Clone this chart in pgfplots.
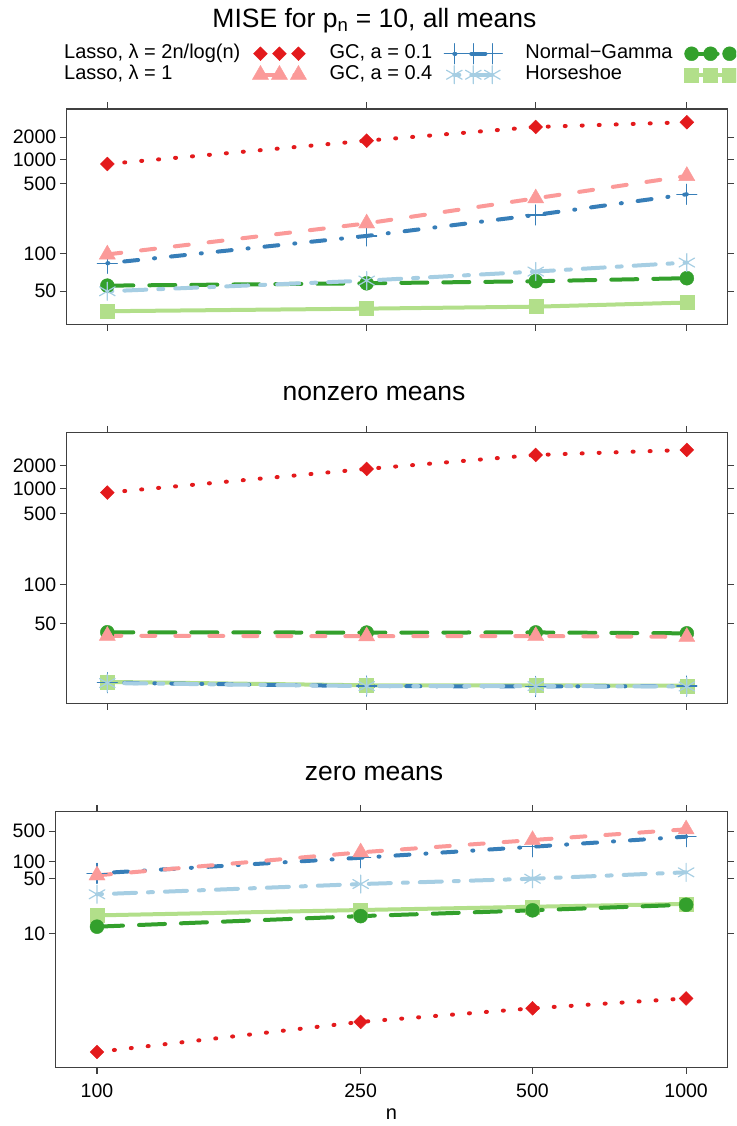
\documentclass[border=0pt]{standalone}
\usepackage{fontspec}
\setmainfont{Liberation Sans}
\usepackage{pgfplots}
\pgfplotsset{compat=1.18}

\definecolor{cred}{HTML}{E31A1C}
\definecolor{cpink}{HTML}{FB9A99}
\definecolor{cblue}{HTML}{377EB8}
\definecolor{clblue}{HTML}{A6CEE3}
\definecolor{cgreen}{HTML}{33A02C}
\definecolor{clgreen}{HTML}{B2DF8A}

\pgfplotsset{
  sred/.style={color=cred, line width=4pt, line cap=round, dash pattern=on 1pt off 16pt,
    mark=square*, mark size=4.9pt, mark options={solid, rotate=45, line width=0.4pt}},
  spink/.style={color=cpink, line width=4pt, line cap=round, dash pattern=on 14pt off 20pt,
    mark=triangle*, mark size=9.3pt, mark options={solid, line width=0.4pt}},
  sblue/.style={color=cblue, line width=4pt, line cap=round, dash pattern=on 1pt off 16pt on 14pt off 16pt,
    mark=+, mark size=10pt, mark options={solid, line width=1.2pt}},
  slblue/.style={color=clblue, line width=4pt, line cap=round, dash pattern=on 5pt off 12pt on 22pt off 12pt,
    mark=asterisk, mark size=9pt, mark options={solid, line width=1.2pt}},
  sgreen/.style={color=cgreen, line width=4pt, line cap=round, dash pattern=on 26pt off 16pt,
    mark=*, mark size=7pt, mark options={solid, line width=0.4pt}},
  slgreen/.style={color=clgreen, line width=4pt, line cap=round, solid,
    mark=square*, mark size=7pt, mark options={solid, line width=0.4pt}},
  panel/.style={
    scale only axis,
    anchor=south west,
    x coord trafo/.code={\pgfmathparse{ln(ln(##1))}},
    y coord trafo/.code={\pgfmathparse{ln(ln(##1))}},
    xmin=87.8, xmax=1222,
    xtick={100,250,500,1000},
    xtick pos=both, ytick pos=both,
    xticklabel pos=bottom, yticklabel pos=left,
    tick align=outside,
    major tick length=6.5pt,
    axis line style={black!75, line width=1.1pt},
    tick style={black!75, line width=1.1pt},
    tick label style={font=\fontsize{19.5}{23}\selectfont},
    xticklabel style={yshift=-7pt},
    label style={font=\fontsize{20}{24}\selectfont},
    xlabel style={yshift=-4pt},
  },
}

\begin{document}
\begin{tikzpicture}[x=1pt,y=1pt]
\useasboundingbox (0,0) rectangle (736,1126);
\clip (0,0) rectangle (736,1126);

% all means
\begin{axis}[panel, at={(66.3pt,801.7pt)}, width=661.4pt, height=215.3pt,
  ymin=29.74, ymax=5354,
  ytick={50,100,500,1000,2000}, yticklabels={50,100,500,1000,2000},
  xticklabels={},
  legend columns=3, legend plot pos=right, legend cell align=left,
  legend image code/.code={\draw[mark repeat=1,#1] plot coordinates {(0pt,0pt) (19pt,0pt) (38pt,0pt)};},
  legend style={at={(-0.005,1.304)}, anchor=north west, draw=none, fill=none, inner sep=0pt,
    font=\fontsize{20}{24}\selectfont,
    nodes={inner sep=1pt, text height=14pt, text depth=4pt}, row sep=1pt,
    /tikz/every odd column/.append style={column sep=11pt},
    /tikz/every even column/.append style={column sep=22pt}},
  ]
\addplot[slgreen, forget plot] coordinates {(100,36.2) (250,37.7) (500,38.9) (1000,41.5)};
\addplot[sgreen, forget plot] coordinates {(100,55.0) (250,57.3) (500,59.4) (1000,62.7)};
\addplot[sblue, forget plot] coordinates {(100,82.6) (250,143.5) (500,229.7) (1000,381)};
\addplot[slblue, forget plot] coordinates {(100,50) (250,60.1) (500,70.7) (1000,83.7)};
\addplot[spink, forget plot] coordinates {(100,98) (250,189) (500,344) (1000,622)};
\addplot[sred, forget plot] coordinates {(100,874) (250,1790) (500,2823) (1000,3320)};
\addlegendimage{sred}\addlegendentry{Lasso, λ = 2n/log(n)}
\addlegendimage{sblue}\addlegendentry{GC, a = 0.1}
\addlegendimage{sgreen}\addlegendentry{Normal−Gamma}
\addlegendimage{spink}\addlegendentry{Lasso, λ = 1}
\addlegendimage{slblue}\addlegendentry{GC, a = 0.4}
\addlegendimage{slgreen}\addlegendentry{Horseshoe}
\end{axis}

% nonzero means
\begin{axis}[panel, at={(66.3pt,422.7pt)}, width=661.4pt, height=271pt,
  ymin=16.29, ymax=6359,
  ytick={50,100,500,1000,2000}, yticklabels={50,100,500,1000,2000},
  xticklabels={},
  ]
\addplot[slgreen] coordinates {(100,21.2) (250,20.3) (500,20.3) (1000,20.2)};
\addplot[sgreen] coordinates {(100,43.2) (250,43.0) (500,43.1) (1000,42.5)};
\addplot[sblue] coordinates {(100,21.0) (250,20.1) (500,20.0) (1000,20.1)};
\addplot[slblue] coordinates {(100,20.9) (250,20.1) (500,20.1) (1000,20.0)};
\addplot[spink] coordinates {(100,40.9) (250,40.6) (500,40.7) (1000,40.2)};
\addplot[sred] coordinates {(100,889) (250,1815) (500,2864) (1000,3395)};
\end{axis}

% zero means
\begin{axis}[panel, at={(55.3pt,58.7pt)}, width=672.4pt, height=255.6pt,
  ymin=1.872, ymax=1812,
  ytick={10,50,100,500}, yticklabels={10,50,100,500},
  xticklabels={100,250,500,1000},
  xlabel={n},
  ]
\addplot[slgreen] coordinates {(100,15.5) (250,17.95) (500,19.7) (1000,21.4)};
\addplot[sgreen] coordinates {(100,11.66) (250,15.2) (500,17.8) (1000,20.9)};
\addplot[sblue] coordinates {(100,61.7) (250,121) (500,208) (1000,360)};
\addplot[slblue] coordinates {(100,28.9) (250,41.1) (500,50.1) (1000,64.3)};
\addplot[spink] coordinates {(100,57) (250,157) (500,298) (1000,556)};
\addplot[sred] coordinates {(100,2.07) (250,2.65) (500,3.04) (1000,3.40)};
\end{axis}

\node[anchor=base, font=\fontsize{26.5}{31}\selectfont] at (374.4,1098.7) {MISE for p\textsubscript{n} = 10, all means};
\node[anchor=base, font=\fontsize{26.5}{31}\selectfont] at (374,725.5) {nonzero means};
\node[anchor=base, font=\fontsize{26.5}{31}\selectfont] at (374,345.5) {zero means};
\end{tikzpicture}
\end{document}
